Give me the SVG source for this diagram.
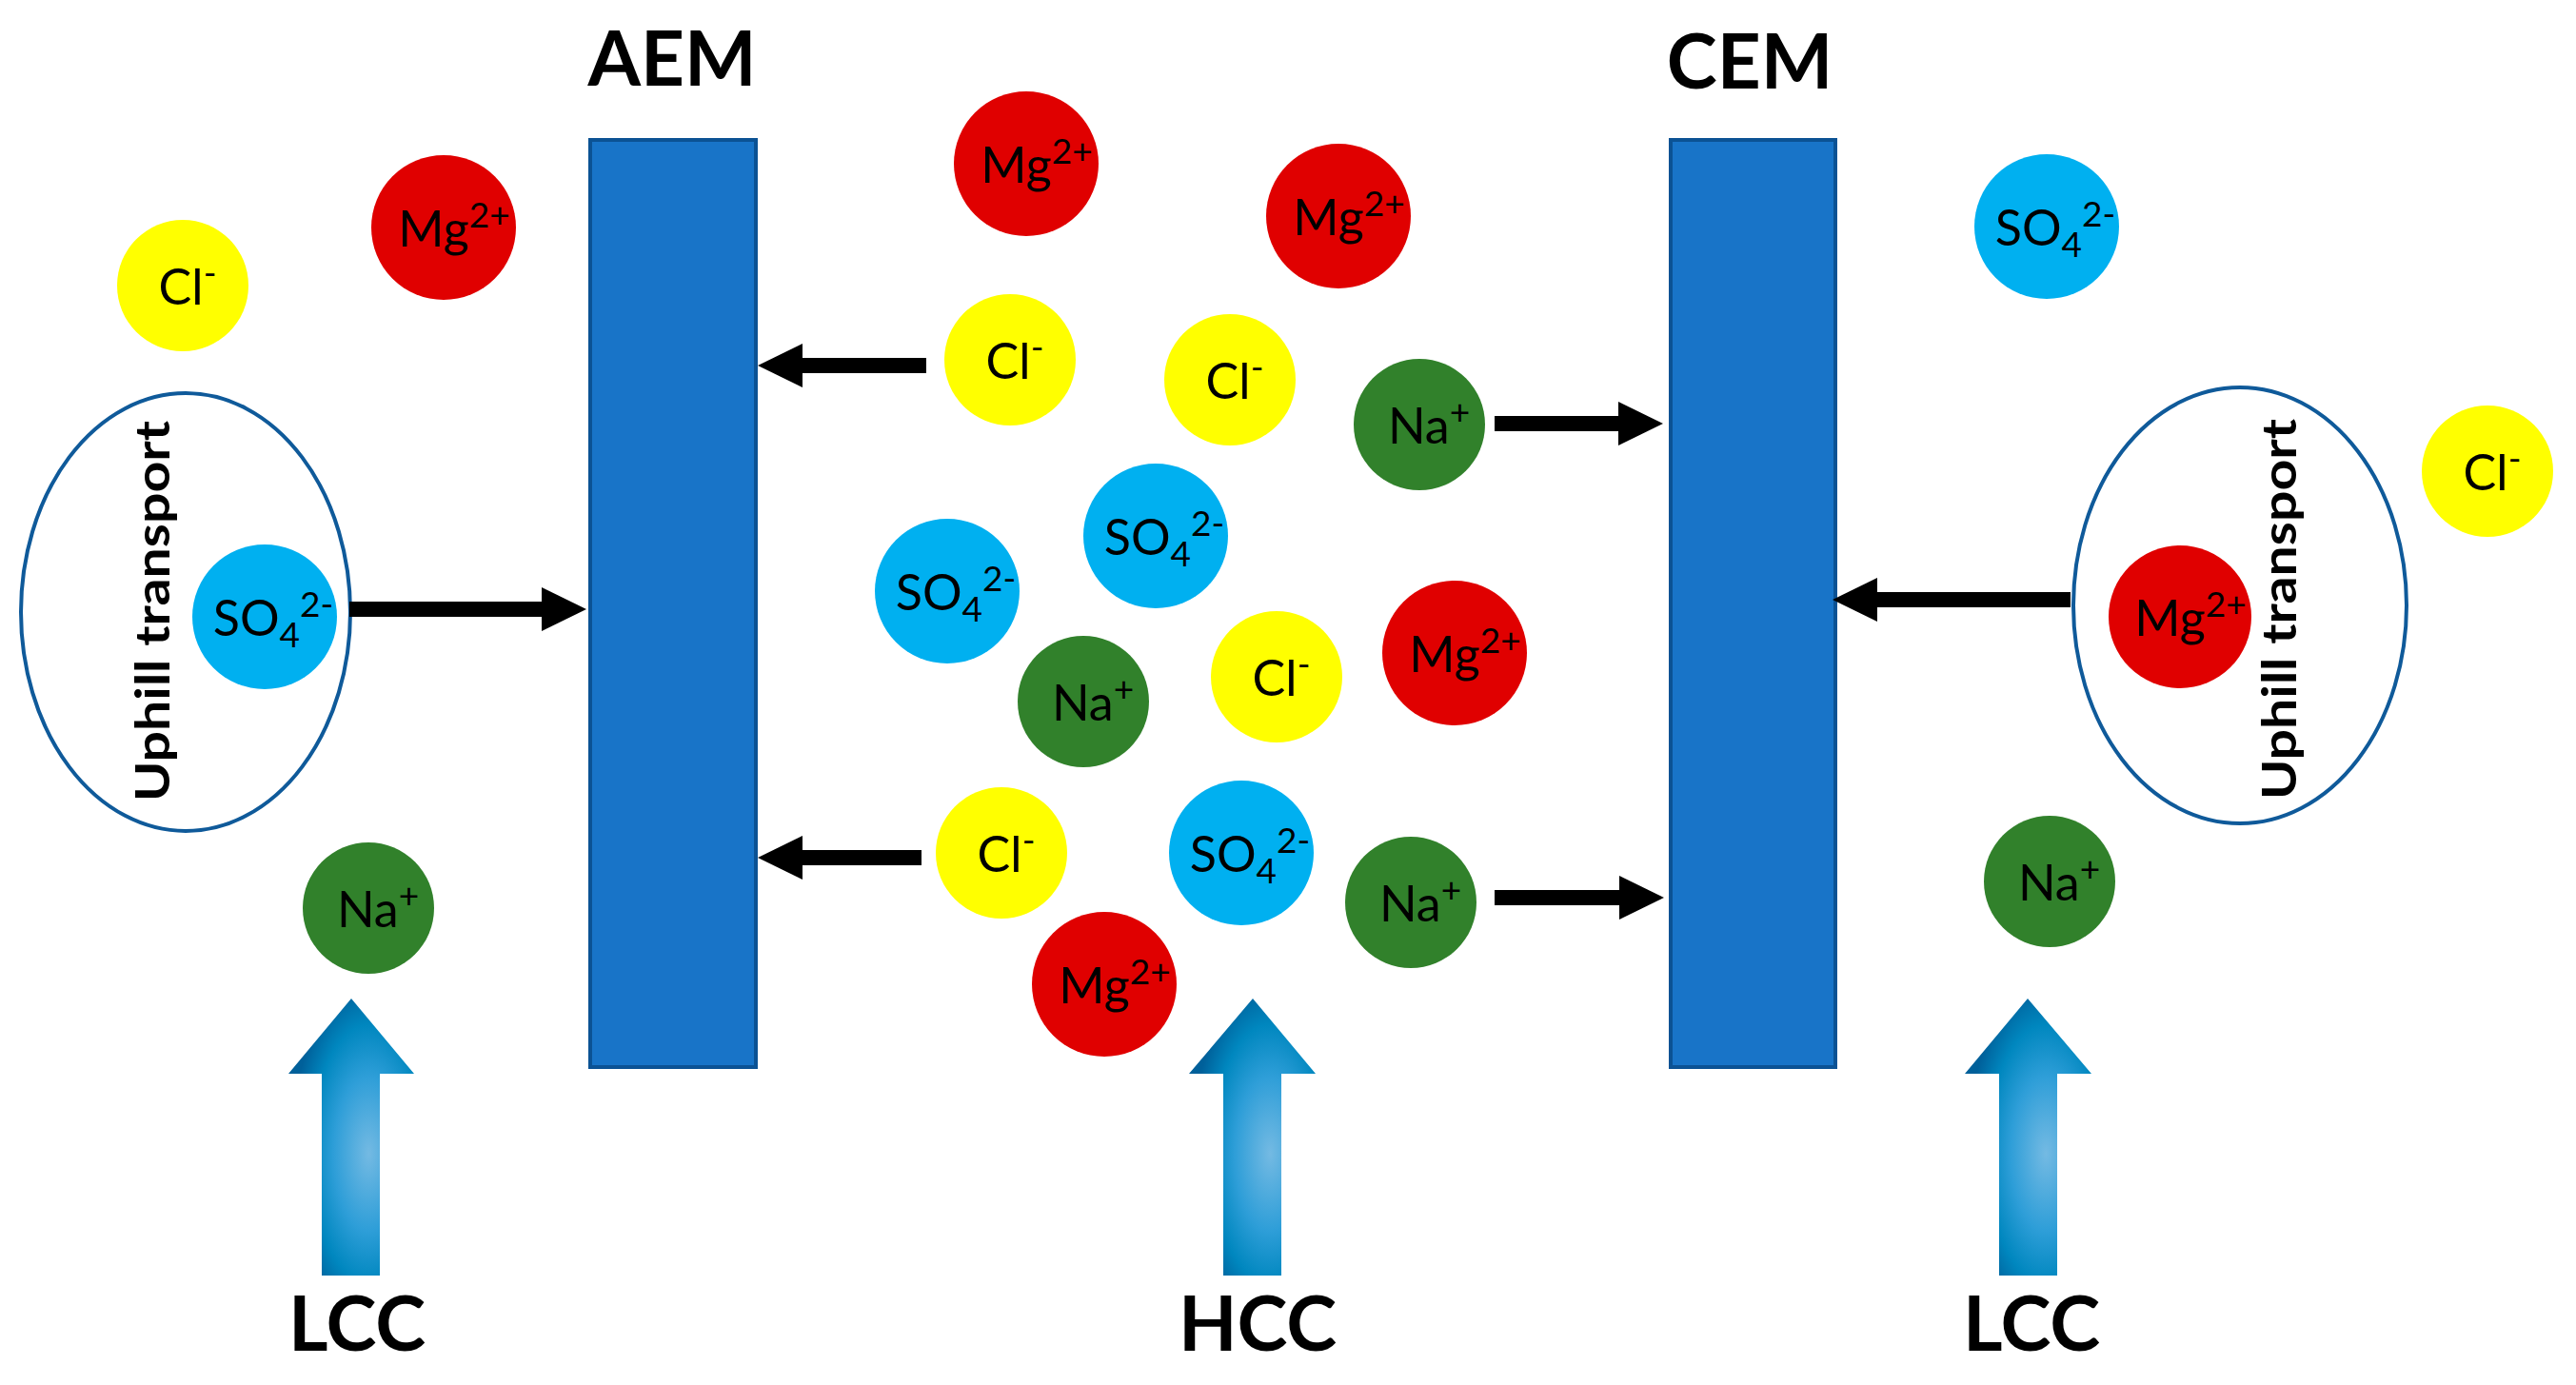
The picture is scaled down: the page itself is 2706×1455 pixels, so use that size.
<svg xmlns="http://www.w3.org/2000/svg" width="2706" height="1455" viewBox="0 0 2706 1455">
<style>
.mg{fill:#E00000}
.cl{fill:#FFFF00}
.na{fill:#31812B}
.so{fill:#00B0F0}
.ion{font-family:Lato,"Liberation Sans",sans-serif;font-size:52px;fill:#000;text-anchor:middle}
.sup{font-size:37px}
.mem{fill:#1874C8;stroke:#0B5294;stroke-width:4}
.title{font-family:Lato,"Liberation Sans",sans-serif;font-weight:bold;font-size:80px;fill:#000;text-anchor:middle}
.uphill{font-family:Lato,"Liberation Sans",sans-serif;font-weight:bold;font-size:49px;fill:#000;text-anchor:middle}
.ring{fill:none;stroke:#0F5A9A;stroke-width:4}
.flow{fill:url(#flowGrad)}
.conn{stroke:#000;stroke-width:16;fill:none;marker-end:url(#head)}
</style>
<defs>
<marker id="head" viewBox="0 0 47 46" refX="0" refY="23" markerWidth="47" markerHeight="46" markerUnits="userSpaceOnUse" orient="auto">
<path d="M0,0 L47,23 L0,46 Z" fill="#000"/>
</marker>
<radialGradient id="flowGrad" cx="0.64" cy="0.56" r="0.62" fx="0.64" fy="0.56">
<stop offset="0" stop-color="#74BAE3"/>
<stop offset="0.45" stop-color="#2E9ED8"/>
<stop offset="0.75" stop-color="#0087BF"/>
<stop offset="1" stop-color="#00609A"/>
</radialGradient>
</defs>
<rect width="2706" height="1455" fill="#fff"/>

<g id="AEM">
<rect class="mem" x="620" y="147" width="174" height="974"/>
<text class="title" x="706" y="90">AEM</text>
</g>
<g id="CEM">
<rect class="mem" x="1755" y="147" width="173" height="974"/>
<text class="title" x="1838" y="93">CEM</text>
</g>

<g id="uphill-left">
<ellipse class="ring" cx="195" cy="643" rx="173" ry="230"/>
<text class="uphill" transform="translate(178,642) rotate(-90)" textLength="400" lengthAdjust="spacingAndGlyphs">Uphill transport</text>
</g>
<g id="uphill-right">
<ellipse class="ring" cx="2353" cy="636" rx="175" ry="229"/>
<text class="uphill" transform="translate(2412,640) rotate(-90)" textLength="400" lengthAdjust="spacingAndGlyphs">Uphill transport</text>
</g>

<g id="connectors">
<line class="conn" x1="367" y1="640" x2="569" y2="640"/>
<line class="conn" x1="973" y1="384" x2="843" y2="384"/>
<line class="conn" x1="968" y1="901" x2="843" y2="901"/>
<line class="conn" x1="1570" y1="445" x2="1700" y2="445"/>
<line class="conn" x1="1570" y1="943" x2="1701" y2="943"/>
<line class="conn" x1="2175" y1="630" x2="1972" y2="630"/>
</g>

<g id="flow-LCC-left">
<path class="flow" d="M369,1049 L435,1128 L399,1128 L399,1340 L338,1340 L338,1128 L303,1128 Z"/>
<text class="title" x="375" y="1419">LCC</text>
</g>
<g id="flow-HCC">
<path class="flow" d="M1316,1049 L1382,1128 L1346,1128 L1346,1340 L1285,1340 L1285,1128 L1249,1128 Z"/>
<text class="title" x="1321" y="1419">HCC</text>
</g>
<g id="flow-LCC-right">
<path class="flow" d="M2130,1049 L2197,1128 L2161,1128 L2161,1340 L2100,1340 L2100,1128 L2064,1128 Z"/>
<text class="title" x="2134" y="1419">LCC</text>
</g>

<g id="cl-1"><circle class="cl" cx="192" cy="300" r="69"/><text class="ion" x="197" y="320">Cl<tspan class="sup" dy="-20">-</tspan></text></g>
<g id="mg-1"><circle class="mg" cx="466" cy="239" r="76"/><text class="ion" x="477" y="259">Mg<tspan class="sup" dy="-20">2+</tspan></text></g>
<g id="so4-1"><circle class="so" cx="278" cy="648" r="76"/><text class="ion" x="287" y="668">SO<tspan class="sup" dy="12">4</tspan><tspan class="sup" dy="-32">2-</tspan></text></g>
<g id="na-1"><circle class="na" cx="387" cy="954" r="69"/><text class="ion" x="397" y="974">Na<tspan class="sup" dy="-20">+</tspan></text></g>

<g id="mg-2"><circle class="mg" cx="1078" cy="172" r="76"/><text class="ion" x="1089" y="192">Mg<tspan class="sup" dy="-20">2+</tspan></text></g>
<g id="mg-3"><circle class="mg" cx="1406" cy="227" r="76"/><text class="ion" x="1417" y="247">Mg<tspan class="sup" dy="-20">2+</tspan></text></g>
<g id="cl-2"><circle class="cl" cx="1061" cy="378" r="69"/><text class="ion" x="1066" y="398">Cl<tspan class="sup" dy="-20">-</tspan></text></g>
<g id="cl-3"><circle class="cl" cx="1292" cy="399" r="69"/><text class="ion" x="1297" y="419">Cl<tspan class="sup" dy="-20">-</tspan></text></g>
<g id="na-2"><circle class="na" cx="1491" cy="446" r="69"/><text class="ion" x="1501" y="466">Na<tspan class="sup" dy="-20">+</tspan></text></g>
<g id="so4-2"><circle class="so" cx="1214" cy="563" r="76"/><text class="ion" x="1223" y="583">SO<tspan class="sup" dy="12">4</tspan><tspan class="sup" dy="-32">2-</tspan></text></g>
<g id="so4-3"><circle class="so" cx="995" cy="621" r="76"/><text class="ion" x="1004" y="641">SO<tspan class="sup" dy="12">4</tspan><tspan class="sup" dy="-32">2-</tspan></text></g>
<g id="mg-4"><circle class="mg" cx="1528" cy="686" r="76"/><text class="ion" x="1539" y="706">Mg<tspan class="sup" dy="-20">2+</tspan></text></g>
<g id="na-3"><circle class="na" cx="1138" cy="737" r="69"/><text class="ion" x="1148" y="757">Na<tspan class="sup" dy="-20">+</tspan></text></g>
<g id="cl-4"><circle class="cl" cx="1341" cy="711" r="69"/><text class="ion" x="1346" y="731">Cl<tspan class="sup" dy="-20">-</tspan></text></g>
<g id="cl-5"><circle class="cl" cx="1052" cy="896" r="69"/><text class="ion" x="1057" y="916">Cl<tspan class="sup" dy="-20">-</tspan></text></g>
<g id="so4-4"><circle class="so" cx="1304" cy="896" r="76"/><text class="ion" x="1313" y="916">SO<tspan class="sup" dy="12">4</tspan><tspan class="sup" dy="-32">2-</tspan></text></g>
<g id="na-4"><circle class="na" cx="1482" cy="948" r="69"/><text class="ion" x="1492" y="968">Na<tspan class="sup" dy="-20">+</tspan></text></g>
<g id="mg-5"><circle class="mg" cx="1160" cy="1034" r="76"/><text class="ion" x="1171" y="1054">Mg<tspan class="sup" dy="-20">2+</tspan></text></g>

<g id="so4-5"><circle class="so" cx="2150" cy="238" r="76"/><text class="ion" x="2159" y="258">SO<tspan class="sup" dy="12">4</tspan><tspan class="sup" dy="-32">2-</tspan></text></g>
<g id="cl-6"><circle class="cl" cx="2613" cy="495" r="69"/><text class="ion" x="2618" y="515">Cl<tspan class="sup" dy="-20">-</tspan></text></g>
<g id="mg-6"><circle class="mg" cx="2290" cy="648" r="75"/><text class="ion" x="2301" y="668">Mg<tspan class="sup" dy="-20">2+</tspan></text></g>
<g id="na-5"><circle class="na" cx="2153" cy="926" r="69"/><text class="ion" x="2163" y="946">Na<tspan class="sup" dy="-20">+</tspan></text></g>
</svg>
